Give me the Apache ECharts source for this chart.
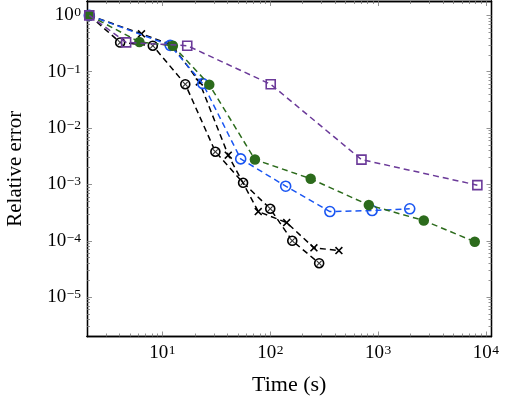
<!DOCTYPE html>
<html><head><meta charset="utf-8">
<script src="https://cdn.jsdelivr.net/npm/echarts@6/dist/echarts.min.js"></script>
<style>html,body{margin:0;padding:0;background:#fff}#c{width:509px;height:405px}</style>
</head><body><div id="c"></div>
<script>
// ---- data ----
const otimesTime = [2.1, 4.06, 8.15, 16.3, 31, 56, 100, 160, 284];
const otimesErr  = [1, 0.33, 0.29, 0.06, 0.0038, 0.00107, 0.00037, 0.0001, 0.00004];

const crossTime = [2.1, 6.4, 12.2, 22, 40.8, 77.4, 142, 254, 433];
const crossErr  = [1, 0.47, 0.30, 0.066, 0.0033, 0.00033, 0.00021, 0.000075, 0.000067];

const blueTime = [2.1, 11.8, 23.7, 53.2, 139, 357, 880, 1964];
const blueErr  = [1, 0.294, 0.0615, 0.00284, 0.00093, 0.00033, 0.000344, 0.000369];

const greenTime = [2.1, 6.12, 12.5, 27.2, 72.1, 237, 820, 2650, 7870];
const greenErr  = [1, 0.338, 0.29, 0.059, 0.00276, 0.00126, 0.00043, 0.000229, 0.000096];

const purpleTime = [2.1, 4.61, 17, 101, 701, 8318];
const purpleErr  = [1, 0.332, 0.29, 0.0598, 0.00276, 0.00097];

const xTickLabels = [10, 100, 1000, 10000];
const yTickLabels = [1, 0.1, 0.01, 0.001, 0.0001, 0.00001];
const xRange = [2, 11250];
const yRange = [2e-6, 1.8];

// ---- helpers ----
function minorTicks(lo, hi) {
  const out = [];
  for (let e = -7; e <= 5; e++) {
    for (let m = 2; m <= 9; m++) {
      const v = m * Math.pow(10, e);
      if (v > lo * 1.0001 && v < hi * 0.9999) out.push(+v.toPrecision(6));
    }
  }
  return out;
}
const xMinor = minorTicks(xRange[0], xRange[1]);
const yMinor = minorTicks(yRange[0], yRange[1]);
const pairs = (xs, ys) => xs.map((x, i) => [x, ys[i]]);

const FONT = 'Liberation Serif';
const rich = {
  b: {fontFamily: FONT, fontSize: 19, color: '#000'},
  s: {fontFamily: FONT, fontSize: 13.5, color: '#000', verticalAlign: 'top', padding: [0, 0, 0, 0.5]}
};
function powLabel(v) {
  const e = Math.round(Math.log10(v));
  return '{b|10}{s|' + (e < 0 ? '\u2212' + (-e) : e) + '}';
}
const frame = {show: true, onZero: false, lineStyle: {color: '#000', width: 1.3}};
const TICK = '#777';

function xAx(pos, major, labels) {
  return {
    type: 'log', logBase: 10, min: xRange[0], max: xRange[1], position: pos, gridIndex: 0,
    axisLine: frame,
    axisTick: {show: true, inside: true, length: major ? 5 : 3,
      customValues: major ? xTickLabels : xMinor, lineStyle: {color: TICK, width: 0.8}},
    axisLabel: {show: labels, customValues: xTickLabels, formatter: powLabel, rich: rich, margin: 7},
    splitLine: {show: false}, minorTick: {show: false},
    name: labels ? 'Time (s)' : '', nameLocation: 'middle', nameGap: 38,
    nameTextStyle: {fontFamily: FONT, fontSize: 22, color: '#000'}
  };
}
function yAx(pos, major, labels) {
  return {
    type: 'log', logBase: 10, min: yRange[0], max: yRange[1], position: pos, gridIndex: 0,
    axisLine: frame,
    axisTick: {show: true, inside: true, length: major ? 5 : 3,
      customValues: major ? yTickLabels : yMinor, lineStyle: {color: TICK, width: 0.8}},
    axisLabel: {show: labels, customValues: yTickLabels, formatter: powLabel, rich: rich, margin: 6},
    splitLine: {show: false}, minorTick: {show: false},
    name: labels ? 'Relative error' : '', nameLocation: 'middle', nameGap: 61,
    nameTextStyle: {fontFamily: FONT, fontSize: 21, color: '#000'}
  };
}

const xPath = 'path://M1.4,0 L5,3.6 L8.6,0 L10,1.4 L6.4,5 L10,8.6 L8.6,10 L5,6.4 L1.4,10 L0,8.6 L3.6,5 L0,1.4 Z';
const dash = [6, 4];
const BLACK = '#000000', BLUE = '#1a56f2', GREEN = '#2c6b1c', PURPLE = '#6b3a99';

function lineSeries(xs, ys, color, symbol, size, fill, border, z) {
  return {
    type: 'line', xAxisIndex: 0, yAxisIndex: 0, data: pairs(xs, ys), z: z,
    showAllSymbol: true, symbol: symbol, symbolSize: size, animation: false,
    lineStyle: {color: color, width: 1.5, type: dash},
    itemStyle: {color: fill, borderColor: color, borderWidth: border},
    emphasis: {disabled: true}, silent: true
  };
}

const option = {
  animation: false,
  grid: {left: 87, right: 17.5, top: 1, bottom: 68.5, containLabel: false, outerBoundsMode: 'none'},
  xAxis: [xAx('bottom', true, true), xAx('bottom', false, false), xAx('top', true, false), xAx('top', false, false)],
  yAxis: [yAx('left', true, true), yAx('left', false, false), yAx('right', true, false), yAx('right', false, false)],
  series: [
    lineSeries(otimesTime, otimesErr, BLACK, 'circle', 9, '#fff', 1.6, 2),
    {type: 'scatter', xAxisIndex: 0, yAxisIndex: 0, data: pairs(otimesTime, otimesErr), z: 3,
      symbol: xPath, symbolSize: 5.5, itemStyle: {color: BLACK}, silent: true, emphasis: {disabled: true}},
    lineSeries(crossTime, crossErr, BLACK, xPath, 8, BLACK, 0, 4),
    lineSeries(blueTime, blueErr, BLUE, 'circle', 10, 'rgba(0,0,0,0)', 1.6, 5),
    lineSeries(greenTime, greenErr, GREEN, 'circle', 10.5, GREEN, 0, 6),
    lineSeries(purpleTime, purpleErr, PURPLE, 'rect', 9, 'rgba(0,0,0,0)', 1.6, 7)
  ]
};
const chart = echarts.init(document.getElementById('c'), null, {renderer: 'canvas'});
chart.setOption(option);
</script></body></html>
